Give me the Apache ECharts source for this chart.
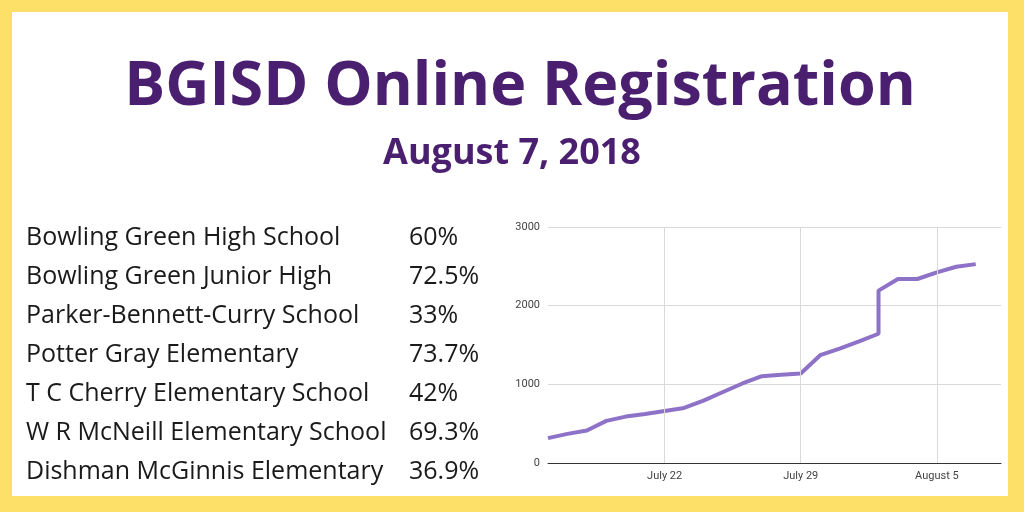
<!DOCTYPE html>
<html>
<head>
<meta charset="utf-8">
<script src="https://cdn.jsdelivr.net/npm/echarts@6/dist/echarts.min.js"></script>
<style>
  html, body { margin: 0; padding: 0; background: #fde068; }
  #chart { width: 1024px; height: 512px; }
</style>
</head>
<body>
<div id="chart"></div>
<script>
// day index: 0 = July 16; day 17 (Aug 2) appears twice for the jump
var days = [0, 1, 2, 3, 4, 5, 6, 7, 8, 9, 10, 11, 12, 13, 14, 15, 16, 17, 17, 18, 19, 20, 21, 22];
var registrations = [316, 370, 413, 535, 590, 624, 662, 700, 792, 902, 1011, 1104, 1121, 1138, 1370, 1454, 1547, 1643, 2191, 2339, 2339, 2423, 2495, 2528];
var tickDays = [6, 13, 20];
var tickLabels = ['July 22', 'July 29', 'August 5'];
var schools = ['Bowling Green High School', 'Bowling Green Junior High', 'Parker-Bennett-Curry School',
  'Potter Gray Elementary', 'T C Cherry Elementary School', 'W R McNeill Elementary School', 'Dishman McGinnis Elementary'];
var percents = ['60%', '72.5%', '33%', '73.7%', '42%', '69.3%', '36.9%'];

var points = days.map(function (d, i) { return [d, registrations[i]]; });

var chart = echarts.init(document.getElementById('chart'));

var graphics = [
  { type: 'rect', shape: { x: 12, y: 12, width: 996, height: 484 }, style: { fill: '#ffffff' }, z: -10 },
  { type: 'text', x: 520, y: 88, style: { text: 'BGISD Online Registration', font: 'bold 61px "Open Sans", sans-serif', fill: '#4b1f6f', align: 'center', verticalAlign: 'middle' } },
  { type: 'text', x: 512, y: 154, style: { text: 'August 7, 2018', font: 'bold 36px "Open Sans", sans-serif', fill: '#4b1f6f', align: 'center', verticalAlign: 'middle' } }
];
schools.forEach(function (s, i) {
  var y = 238 + i * 38.9;
  graphics.push({ type: 'text', x: 26, y: y, style: { text: s, font: '25px "Open Sans", sans-serif', fill: '#1a1a1a', verticalAlign: 'middle' } });
  graphics.push({ type: 'text', x: 409, y: y, style: { text: percents[i], font: '25px "Open Sans", sans-serif', fill: '#1a1a1a', verticalAlign: 'middle' } });
});

option = {
  backgroundColor: '#fde068',
  animation: false,
  graphic: graphics,
  grid: { left: 548, right: 23, top: 227, bottom: 49 },
  xAxis: {
    type: 'value', min: 0, max: 23.3,
    axisLine: { lineStyle: { color: '#333' } },
    axisTick: { show: false },
    splitLine: { show: false },
    axisLabel: {
      customValues: tickDays, color: '#444', fontSize: 11, fontFamily: 'Roboto',
      formatter: function (v) { return tickLabels[tickDays.indexOf(v)] || ''; }
    }
  },
  yAxis: {
    type: 'value', min: 0, max: 3000, interval: 1000,
    axisLine: { show: false }, axisTick: { show: false },
    axisLabel: { color: '#444', fontSize: 11, fontFamily: 'Roboto', margin: 8, formatter: function (v) { return String(v); } },
    splitLine: { lineStyle: { color: '#d9d9d9' } }
  },
  series: [{
    type: 'line', data: points, showSymbol: false,
    lineStyle: { color: '#8e72c8', width: 4 },
    markLine: {
      silent: true, symbol: 'none', label: { show: false },
      lineStyle: { color: '#d9d9d9', type: 'solid', width: 1 },
      data: tickDays.map(function (d) { return { xAxis: d }; })
    },
    z: 3
  }]
};
chart.setOption(option);
</script>
</body>
</html>
